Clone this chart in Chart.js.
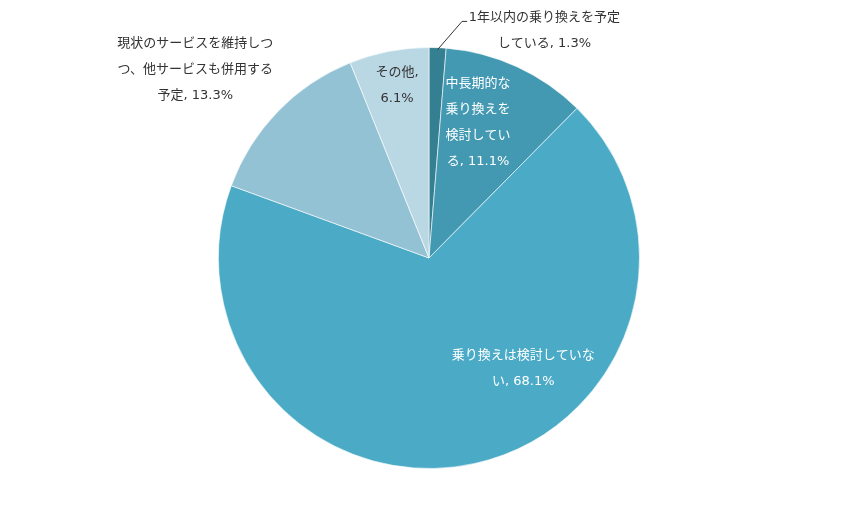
<!DOCTYPE html>
<html>
<head>
<meta charset="utf-8">
<script src="https://cdn.jsdelivr.net/npm/chart.js@4.4.1/dist/chart.umd.min.js"></script>
<style>
  html, body { margin: 0; padding: 0; background: #fff; }
  #wrap { width: 858px; height: 516px; }
</style>
</head>
<body>
<div id="wrap"><canvas id="myChart"></canvas></div>
<script>
// data
var categorias = [
    "1年以内の乗り換えを予定している",
    "中長期的な乗り換えを検討している",
    "乗り換えは検討していない",
    "現状のサービスを維持しつつ、他サービスも併用する予定",
    "その他"
];
var valores = [1.3, 11.1, 68.1, 13.3, 6.1];

// styles
var cores = ["#357f93", "#4399b1", "#4babc6", "#93c2d5", "#bad8e4"];
var corTexto = ["#333333", "#ffffff", "#ffffff", "#333333", "#333333"];
// label centre relative to pie centre, in radius units
var posLabel = [[0.548, -1.081], [0.233, -0.645], [0.448, 0.524], [-1.110, -0.893], [-0.152, -0.819]];
var larguraMax = [156, 70, 150, 162, 50];
var fonte = '13px "DejaVu Sans", "Noto Sans CJK JP", sans-serif';
var alturaLinha = 26;

function quebrar(ctx, texto, max) {
    var tokens = texto.match(/[0-9.%]+|./gu);
    var linhas = [];
    var atual = "";
    tokens.forEach(function (t) {
        if (atual !== "" && ctx.measureText(atual + t).width > max) {
            linhas.push(atual.trim());
            atual = t.trim() === "" ? "" : t;
        } else {
            atual += t;
        }
    });
    if (atual.trim() !== "") linhas.push(atual.trim());
    return linhas;
}

var labelsPlugin = {
    id: 'labelsPie',
    afterDatasetsDraw: function (chart) {
        var ctx = chart.ctx;
        var meta = chart.getDatasetMeta(0);
        ctx.save();
        ctx.font = fonte;
        ctx.textAlign = 'center';
        ctx.textBaseline = 'middle';
        meta.data.forEach(function (arc, i) {
            var r = arc.outerRadius;
            var cx = arc.x, cy = arc.y;
            var tx = cx + posLabel[i][0] * r;
            var ty = cy + posLabel[i][1] * r;
            if (i === 0) {
                // leader line for the small slice
                var meio = (arc.startAngle + arc.endAngle) / 2;
                ctx.strokeStyle = '#333333';
                ctx.lineWidth = 1;
                ctx.beginPath();
                ctx.moveTo(cx + Math.cos(meio) * (r - 2), cy + Math.sin(meio) * (r - 2));
                ctx.lineTo(cx + 0.157 * r, cy - 1.124 * r);
                ctx.lineTo(cx + 0.181 * r, cy - 1.124 * r);
                ctx.stroke();
            }
            var texto = categorias[i] + ", " + valores[i] + "%";
            var linhas = quebrar(ctx, texto, larguraMax[i]);
            ctx.fillStyle = corTexto[i];
            var y0 = ty - (linhas.length - 1) * alturaLinha / 2;
            linhas.forEach(function (l, k) {
                ctx.fillText(l, tx, y0 + k * alturaLinha);
            });
        });
        ctx.restore();
    }
};

var ctx = document.getElementById('myChart').getContext('2d');
var myChart = new Chart(ctx, {
    type: 'pie',
    data: {
        labels: categorias,
        datasets: [{
            data: valores,
            backgroundColor: cores,
            borderColor: 'rgba(255,255,255,0.6)',
            borderWidth: 1
        }]
    },
    options: {
        responsive: true,
        maintainAspectRatio: false,
        animation: false,
        layout: { padding: { top: 47, bottom: 47, left: 0, right: 0 } },
        plugins: {
            legend: { display: false },
            tooltip: { enabled: false }
        }
    },
    plugins: [labelsPlugin]
});
</script>
</body>
</html>
